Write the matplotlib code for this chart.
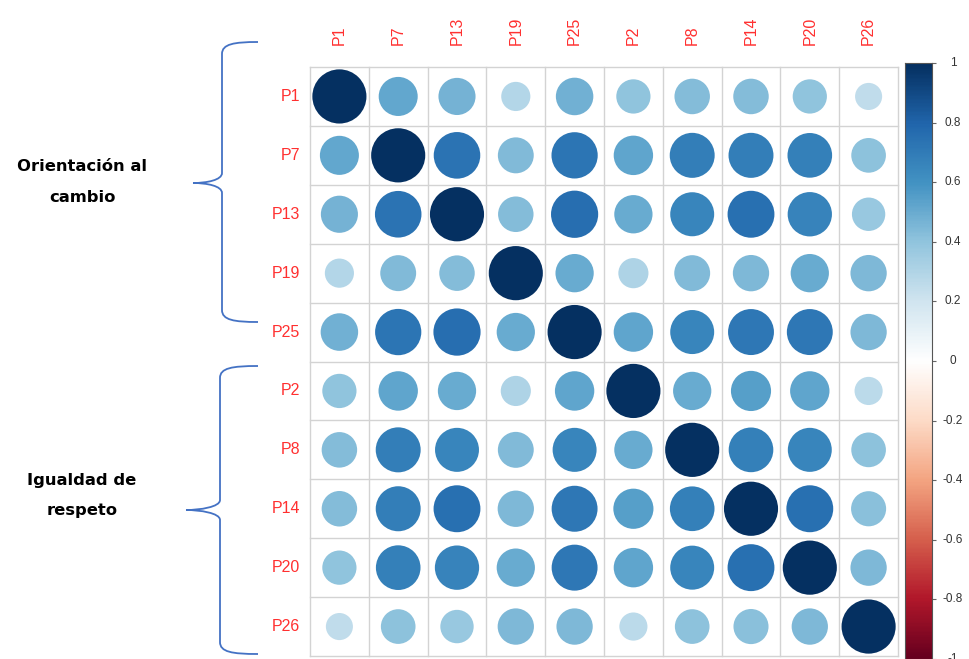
import matplotlib
matplotlib.use('Agg')
import matplotlib.pyplot as plt
import numpy as np
from matplotlib.colors import LinearSegmentedColormap
from matplotlib.patches import Circle, PathPatch
from matplotlib.path import Path


labels = ['P1', 'P7', 'P13', 'P19', 'P25', 'P2', 'P8', 'P14', 'P20', 'P26']

r_p1 = [1.00, 0.52, 0.47, 0.29, 0.48, 0.40, 0.43, 0.43, 0.40, 0.25]
r_p7 = [0.52, 1.00, 0.74, 0.44, 0.73, 0.53, 0.69, 0.69, 0.68, 0.41]
r_p13 = [0.47, 0.74, 1.00, 0.43, 0.76, 0.50, 0.66, 0.75, 0.67, 0.38]
r_p19 = [0.29, 0.44, 0.43, 1.00, 0.50, 0.31, 0.44, 0.45, 0.50, 0.45]
r_p25 = [0.48, 0.73, 0.76, 0.50, 1.00, 0.53, 0.66, 0.72, 0.72, 0.45]
r_p2 = [0.40, 0.53, 0.50, 0.31, 0.53, 1.00, 0.50, 0.55, 0.53, 0.27]
r_p8 = [0.43, 0.69, 0.66, 0.44, 0.66, 0.50, 1.00, 0.68, 0.66, 0.41]
r_p14 = [0.43, 0.69, 0.75, 0.45, 0.72, 0.55, 0.68, 1.00, 0.75, 0.42]
r_p20 = [0.40, 0.68, 0.67, 0.50, 0.72, 0.53, 0.66, 0.75, 1.00, 0.45]
r_p26 = [0.25, 0.41, 0.38, 0.45, 0.45, 0.27, 0.41, 0.42, 0.45, 1.00]

group_lines = [['Orientación al', 'cambio'], ['Igualdad de', 'respeto']]
cbar_ticks = [1, 0.8, 0.6, 0.4, 0.2, 0, -0.2, -0.4, -0.6, -0.8, -1]

corr = np.array([r_p1, r_p7, r_p13, r_p19, r_p25, r_p2, r_p8, r_p14, r_p20, r_p26])

# corrplot's RdBu palette
cmap = LinearSegmentedColormap.from_list('corr_rdbu', [
    '#67001F', '#B2182B', '#D6604D', '#F4A582', '#FDDBC7', '#FFFFFF',
    '#D1E5F0', '#92C5DE', '#4393C3', '#2166AC', '#053061'])

W, H = 970, 659
fig = plt.figure(figsize=(W / 100, H / 100), dpi=100)


def fx(px):
    return px / W


def fy(py):
    return 1 - py / H


# main grid
ax = fig.add_axes([fx(310), fy(656), fx(898) - fx(310), fy(67) - fy(656)])
n = len(labels)
ax.set_xlim(0, n)
ax.set_ylim(n, 0)
ax.set_xticks([])
ax.set_yticks([])
for s in ax.spines.values():
    s.set_visible(False)

grid_col = '#d3d3d3'
for k in range(n + 1):
    ax.plot([k, k], [0, n], color=grid_col, lw=1, zorder=1, clip_on=False)
    ax.plot([0, n], [k, k], color=grid_col, lw=1, zorder=1, clip_on=False)

for i in range(n):
    for j in range(n):
        v = corr[i, j]
        c = Circle((j + 0.5, i + 0.5), 0.46 * np.sqrt(abs(v)),
                   facecolor=cmap((v + 1) / 2), edgecolor='none', zorder=2)
        ax.add_patch(c)

lab_col = '#ff3030'
for k, lab in enumerate(labels):
    ax.text(-0.17, k + 0.5, lab, ha='right', va='center', color=lab_col,
            fontsize=11.5, family='Liberation Sans')
    ax.text(k + 0.5, -0.37, lab, ha='center', va='bottom', rotation=90,
            color=lab_col, fontsize=11.5, family='Liberation Sans')

# colour bar
cax = fig.add_axes([fx(905), fy(659), fx(932) - fx(905), fy(63) - fy(659)])
grad = np.linspace(-1, 1, 400).reshape(-1, 1)
cax.imshow(grad, aspect='auto', cmap=cmap, origin='lower',
           extent=[0, 1, -1, 1], vmin=-1, vmax=1)
cax.set_xlim(0, 1)
cax.set_ylim(-1, 1)
cax.set_xticks([])
cax.yaxis.tick_right()
cax.set_yticks(cbar_ticks)
cax.set_yticklabels([])
cax.tick_params(axis='y', direction='out', length=3, color='#666666')
for s in cax.spines.values():
    s.set_color('#555555')
    s.set_linewidth(0.8)
for t in cbar_ticks:
    cax.text(1.78, t, '%g' % t, ha='center', va='center', fontsize=8.5,
             color='#333333', family='Liberation Sans', clip_on=False)


# braces on the left
def brace(x_end, x_v, x_tip, y_top, y_tip, y_bot):
    verts = [
        (x_end, y_top), (x_v + 12, y_top), (x_v, y_top + 2), (x_v, y_top + 12),
        (x_v, y_tip - 10),
        (x_v, y_tip - 3), (x_tip + 14, y_tip), (x_tip, y_tip),
        (x_tip + 14, y_tip), (x_v, y_tip + 3), (x_v, y_tip + 10),
        (x_v, y_bot - 12),
        (x_v, y_bot - 2), (x_v + 12, y_bot), (x_end, y_bot),
    ]
    codes = [Path.MOVETO, Path.CURVE4, Path.CURVE4, Path.CURVE4,
             Path.LINETO,
             Path.CURVE4, Path.CURVE4, Path.CURVE4,
             Path.CURVE4, Path.CURVE4, Path.CURVE4,
             Path.LINETO,
             Path.CURVE4, Path.CURVE4, Path.CURVE4]
    verts = [(fx(a), fy(b)) for a, b in verts]
    p = PathPatch(Path(verts, codes), transform=fig.transFigure,
                  facecolor='none', edgecolor='#4472C4', lw=1.3)
    fig.patches.append(p)


brace(258, 222, 193, 42, 183, 322)
brace(258, 220, 186, 366, 510, 654)

text_pos = [(82, 167, 197), (82, 481, 511)]
for lines, (x, y1, y2) in zip(group_lines, text_pos):
    fig.text(fx(x), fy(y1), lines[0], ha='center', va='center',
             fontsize=11.8, fontweight='bold', family='DejaVu Sans')
    fig.text(fx(x), fy(y2), lines[1], ha='center', va='center',
             fontsize=11.8, fontweight='bold', family='DejaVu Sans')

fig.savefig('out.png', dpi=100)
